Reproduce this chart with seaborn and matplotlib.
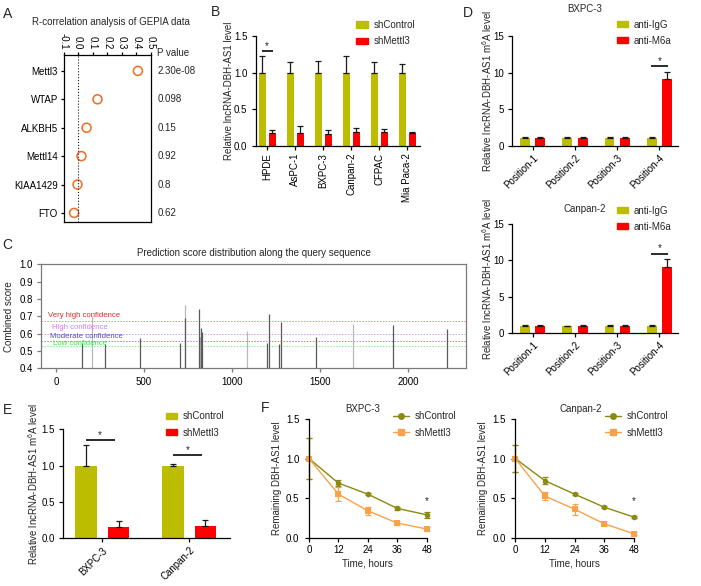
import numpy as np
import pandas as pd
import matplotlib
matplotlib.use('Agg')
import matplotlib.pyplot as plt
import matplotlib.transforms as mtransforms
from matplotlib.patches import Patch
from matplotlib.lines import Line2D
import seaborn as sns

# ---- data ----
genes = ['Mettl3', 'WTAP', 'ALKBH5', 'Mettl14', 'KIAA1429', 'FTO']
r_vals = [0.41, 0.133, 0.058, 0.023, -0.004, -0.027]
p_vals = ['2.30e-08', '0.098', '0.15', '0.92', '0.8', '0.62']

cells_B = ['HPDE', 'AsPC-1', 'BXPC-3', 'Canpan-2', 'CFPAC', 'Mia Paca-2']
ctrl_B = [1.0, 1.0, 1.0, 1.0, 1.0, 1.0]
ctrl_B_err = [0.23, 0.15, 0.16, 0.22, 0.145, 0.12]
mettl3_B = [0.175, 0.18, 0.16, 0.19, 0.187, 0.173]
mettl3_B_err = [0.035, 0.09, 0.05, 0.05, 0.046, 0.014]

c_pos = [149, 203, 280, 479, 706, 735, 731, 811, 820, 824, 829, 1085,
         1200, 1212, 1269, 1280, 1476, 1688, 1916, 2223]
c_score = [0.544, 0.70, 0.538, 0.573, 0.544, 0.765, 0.69, 0.74, 0.58, 0.634,
           0.61, 0.615, 0.544, 0.713, 0.538, 0.669, 0.58, 0.656, 0.652, 0.627]
conf_levels = [0.673, 0.60, 0.559, 0.530]
conf_labels = ['Very high confidence', 'High confidence',
               'Moderate confidence', 'Low confidence']

positions_D = ['Position-1', 'Position-2', 'Position-3', 'Position-4']
bx_igg = [1.0, 1.0, 1.0, 1.0]
bx_igg_err = [0.25, 0.15, 0.2, 0.2]
bx_m6a = [1.0, 1.0, 1.0, 9.1]
bx_m6a_err = [0.25, 0.15, 0.15, 1.0]
cp_igg = [1.0, 1.0, 1.0, 1.0]
cp_igg_err = [0.1, 0.05, 0.2, 0.2]
cp_m6a = [1.0, 1.0, 1.0, 9.1]
cp_m6a_err = [0.2, 0.1, 0.1, 1.1]

cells_E = ['BXPC-3', 'Canpan-2']
ctrl_E = [1.0, 1.0]
ctrl_E_err = [0.29, 0.025]
mettl3_E = [0.16, 0.17]
mettl3_E_err = [0.075, 0.08]

hours = [0, 12, 24, 36, 48]
bx_ctrl = [1.0, 0.69, 0.55, 0.37, 0.29]
bx_ctrl_err = [0.26, 0.04, 0.015, 0.015, 0.04]
bx_mettl = [1.0, 0.55, 0.34, 0.185, 0.11]
bx_mettl_err = [0.26, 0.09, 0.05, 0.025, 0.02]
cp_ctrl = [1.0, 0.72, 0.55, 0.385, 0.26]
cp_ctrl_err = [0.17, 0.045, 0.015, 0.015, 0.015]
cp_mettl = [1.0, 0.525, 0.36, 0.175, 0.05]
cp_mettl_err = [0.17, 0.05, 0.07, 0.03, 0.02]

# ---- style ----
FS = 7
sns.set_theme(style='ticks')
plt.rcParams['font.family'] = ['Liberation Sans', 'DejaVu Sans']
plt.rcParams['font.size'] = FS
plt.rcParams['mathtext.fontset'] = 'custom'
plt.rcParams['mathtext.rm'] = 'Liberation Sans'
plt.rcParams['axes.linewidth'] = 0.9
plt.rcParams['xtick.major.width'] = 0.9
plt.rcParams['ytick.major.width'] = 0.9
plt.rcParams['xtick.major.size'] = 3
plt.rcParams['ytick.major.size'] = 3
plt.rcParams['xtick.major.pad'] = 2
plt.rcParams['ytick.major.pad'] = 3
plt.rcParams['xtick.labelsize'] = FS
plt.rcParams['ytick.labelsize'] = FS
plt.rcParams['axes.labelsize'] = FS
plt.rcParams['axes.edgecolor'] = 'black'
plt.rcParams['xtick.color'] = 'black'
plt.rcParams['ytick.color'] = 'black'

OLIVE = '#bdbd00'
RED = '#fe0000'
W, H = 701, 586
fig = plt.figure(figsize=(W / 100, H / 100), dpi=100)


def box(l, t, r, b):
    return fig.add_axes([l / W, 1 - b / H, (r - l) / W, (b - t) / H])


def ftext(x, y, s, **kw):
    fig.text(x / W, 1 - y / H, s, **kw)


def leg(ax, handles, x, y, **kw):
    ax.legend(handles=handles, loc='upper left',
              bbox_to_anchor=(x / W, 1 - y / H), bbox_transform=fig.transFigure,
              frameon=False, fontsize=FS, borderpad=0, borderaxespad=0,
              handletextpad=0.6, labelspacing=0.65, **kw)


def grouped_bars(ax, cats, names, vals, errs, width, gap):
    df = pd.DataFrame({'cat': cats * len(names),
                       'val': sum(vals, []),
                       'grp': sum([[n] * len(cats) for n in names], [])})
    sns.barplot(data=df, x='cat', y='val', hue='grp', palette=[OLIVE, RED],
                width=width, gap=gap, saturation=1, errorbar=None,
                legend=False, linewidth=0, ax=ax)
    for j, (v, e) in enumerate(zip(vals, errs)):
        xs = np.arange(len(cats)) + (j - 0.5) * width / 2
        ax.errorbar(xs, v, yerr=[np.zeros(len(v)), e], fmt='none', ecolor='k',
                    elinewidth=0.9, capsize=2, capthick=0.9)
    ax.set_xlabel('')
    sns.despine(ax=ax)


def sig(ax, x0, x1, y):
    ax.plot([x0, x1], [y, y], color='k', lw=1.3, solid_capstyle='butt')
    ax.text((x0 + x1) / 2, y, '*', ha='center', va='bottom', fontsize=FS)


# ---- A ----
axA = box(63.5, 55, 151, 222)
sns.scatterplot(x=r_vals, y=genes, ax=axA, s=42, marker='o',
                facecolors='none', edgecolors='#f26b21', linewidth=1.1)
axA.axvline(0, ls=':', color='k', lw=0.8)
axA.set_xlim(-0.1, 0.5)
axA.set_ylim(5.32, -0.56)
axA.xaxis.tick_top()
ticksA = np.round(np.arange(-0.1, 0.51, 0.1), 1)
axA.set_xticks(ticksA)
axA.set_xticklabels([f'{t:.1f}' for t in ticksA], rotation=-90)
axA.tick_params(axis='both', length=2.5, pad=1.5)
trA = mtransforms.blended_transform_factory(axA.transAxes, axA.transData)
for i, p in enumerate(p_vals):
    axA.text(1.07, i, p, transform=trA, va='center', ha='left')
axA.text(1.07, 1.01, 'P value', transform=axA.transAxes, va='center', ha='left')
ftext(111, 22, 'R-correlation analysis of GEPIA data', ha='center', va='center')

# ---- B ----
axB = box(255.7, 36, 420, 145.7)
grouped_bars(axB, cells_B, ['shControl', 'shMettl3'], [ctrl_B, mettl3_B],
             [ctrl_B_err, mettl3_B_err], 0.714, 0.33)
axB.set_xlim(-0.41, 5.45)
axB.set_ylim(0, 1.5)
axB.set_yticks([0, 0.5, 1.0, 1.5])
axB.set_yticklabels(['0.0', '0.5', '1.0', '1.5'])
axB.tick_params(axis='x', rotation=90)
axB.set_ylabel('Relative lncRNA-DBH-AS1 level', labelpad=0)
sig(axB, -0.2, 0.2, 1.30)
leg(axB, [Patch(color=OLIVE, label='shControl'), Patch(color=RED, label='shMettl3')],
    356.5, 20, handlelength=1.2, handleheight=0.6)

# ---- C ----
axC = box(41, 264.3, 466, 368.3)
light = {1, 5, 8, 11, 17}
for i, (x, s) in enumerate(zip(c_pos, c_score)):
    axC.vlines(x, 0.4, s, color='#b8b8b8' if i in light else '#5a5a5a',
               lw=0.9, zorder=3 if i not in light else 2)
conf_colors = ['#ee8c8c', '#d59af0', '#8a8ae6', '#92e892']
conf_tcolors = ['#dd2b2b', '#d77ef5', '#4e4eb4', '#46e246']
conf_tx = [-44, -25, -34, -19]
conf_ty = [0.702, 0.633, 0.586, 0.542]
for lv, lab, lc, tc, tx, ty in zip(conf_levels, conf_labels, conf_colors,
                                   conf_tcolors, conf_tx, conf_ty):
    axC.axhline(lv, color=lc, lw=0.7, ls=(0, (1.5, 1.5)))
    axC.text(tx, ty, lab, color=tc, fontsize=5.6, va='center', ha='left')
axC.set_xlim(-85, 2330)
axC.set_ylim(0.4, 1.0)
axC.set_yticks(np.round(np.arange(0.4, 1.01, 0.1), 1))
axC.set_yticklabels([f'{v:.1f}' for v in np.arange(0.4, 1.01, 0.1)])
axC.set_xticks([0, 500, 1000, 1500, 2000])
for sp in axC.spines.values():
    sp.set_color('#7a7a7a')
    sp.set_linewidth(0.9)
axC.tick_params(colors='#7a7a7a', labelcolor='black', pad=3)
axC.set_ylabel('Combined score', labelpad=4)
axC.set_title('Prediction score distribution along the query sequence',
              fontsize=FS, pad=6)

# ---- D ----
for top, bot, igg, igg_e, m6a, m6a_e, title, ty, legy in [
        (36, 145.7, bx_igg, bx_igg_err, bx_m6a, bx_m6a_err, 'BXPC-3', 8.5, 19.5),
        (224, 333.3, cp_igg, cp_igg_err, cp_m6a, cp_m6a_err, 'Canpan-2', 208.5, 205.5)]:
    axD = box(512, top, 678, bot)
    grouped_bars(axD, positions_D, ['anti-IgG', 'anti-M6a'], [igg, m6a],
                 [igg_e, m6a_e], 0.725, 0.35)
    axD.set_xlim(-0.49, 3.44)
    axD.set_ylim(0, 15)
    axD.set_yticks([0, 5, 10, 15])
    plt.setp(axD.get_xticklabels(), rotation=45, ha='right',
             rotation_mode='anchor')
    axD.set_ylabel('Relative lncRNA-DBH-AS1 m$^6$A level', labelpad=-1)
    sig(axD, 2.8, 3.2, 10.95)
    ftext(585, ty, title, ha='center', va='center')
    leg(axD, [Patch(color=OLIVE, label='anti-IgG'), Patch(color=RED, label='anti-M6a')],
        616.5, legy, handlelength=1.2, handleheight=0.6)

# ---- E ----
axE = box(63.3, 429.3, 230, 538.3)
grouped_bars(axE, cells_E, ['shControl', 'shMettl3'], [ctrl_E, mettl3_E],
             [ctrl_E_err, mettl3_E_err], 0.744, 0.33)
axE.set_xlim(-0.45, 1.47)
axE.set_ylim(0, 1.5)
axE.set_yticks([0, 0.5, 1.0, 1.5])
axE.set_yticklabels(['0.0', '0.5', '1.0', '1.5'])
plt.setp(axE.get_xticklabels(), rotation=45, ha='right', rotation_mode='anchor')
axE.set_ylabel('Relative lncRNA-DBH-AS1 m$^6$A level', labelpad=1.5)
sig(axE, -0.19, 0.14, 1.355)
sig(axE, 0.81, 1.15, 1.146)
leg(axE, [Patch(color=OLIVE, label='shControl'), Patch(color=RED, label='shMettl3')],
    165.5, 411.5, handlelength=1.2, handleheight=0.6)

# ---- F ----
CTRL_F = '#8a8a10'
METT_F = '#f9a24a'
for left, right, ctrl, ctrl_e, mett, mett_e, title, tx, lx in [
        (309, 426.7, bx_ctrl, bx_ctrl_err, bx_mettl, bx_mettl_err, 'BXPC-3', 363, 393),
        (515.3, 634, cp_ctrl, cp_ctrl_err, cp_mettl, cp_mettl_err, 'Canpan-2', 581, 605)]:
    axF = box(left, 419, right, 537.7)
    dfF = pd.DataFrame({'h': hours * 2, 'v': ctrl + mett,
                        'g': ['shControl'] * 5 + ['shMettl3'] * 5})
    sns.lineplot(data=dfF, x='h', y='v', hue='g', style='g',
                 palette=[CTRL_F, METT_F], markers=['o', 's'], dashes=False,
                 markersize=4, markeredgewidth=0, lw=1.0, legend=False,
                 ax=axF, clip_on=False)
    axF.errorbar(hours, mett, yerr=mett_e, fmt='none', ecolor=METT_F,
                 elinewidth=0.9, capsize=2, capthick=0.9, clip_on=False)
    axF.errorbar(hours, ctrl, yerr=ctrl_e, fmt='none', ecolor=CTRL_F,
                 elinewidth=0.9, capsize=2, capthick=0.9, clip_on=False)
    axF.set_xlim(0, 48)
    axF.set_ylim(0, 1.5)
    axF.set_xticks(hours)
    axF.set_yticks([0, 0.5, 1.0, 1.5])
    axF.set_yticklabels(['0.0', '0.5', '1.0', '1.5'])
    axF.tick_params(axis='y', pad=4)
    axF.set_xlabel('Time, hours', labelpad=3)
    axF.set_ylabel('Remaining DBH-AS1 level', labelpad=3)
    axF.text(48, 0.40, '*', ha='center', va='bottom', fontsize=FS)
    sns.despine(ax=axF)
    ftext(tx, 409, title, ha='center', va='center')
    leg(axF, [Line2D([], [], color=CTRL_F, marker='o', markersize=4, lw=1.0,
                     label='shControl'),
              Line2D([], [], color=METT_F, marker='s', markersize=4, lw=1.0,
                     label='shMettl3')],
        lx, 411.5, handlelength=1.6)

# ---- panel letters ----
for lab, x, y in [('A', 7.5, 14), ('B', 216, 12), ('C', 7, 245),
                  ('D', 468, 13), ('E', 7, 410), ('F', 265, 408)]:
    ftext(x, y, lab, fontsize=10, ha='center', va='center')

fig.savefig('out.png', dpi=100)
